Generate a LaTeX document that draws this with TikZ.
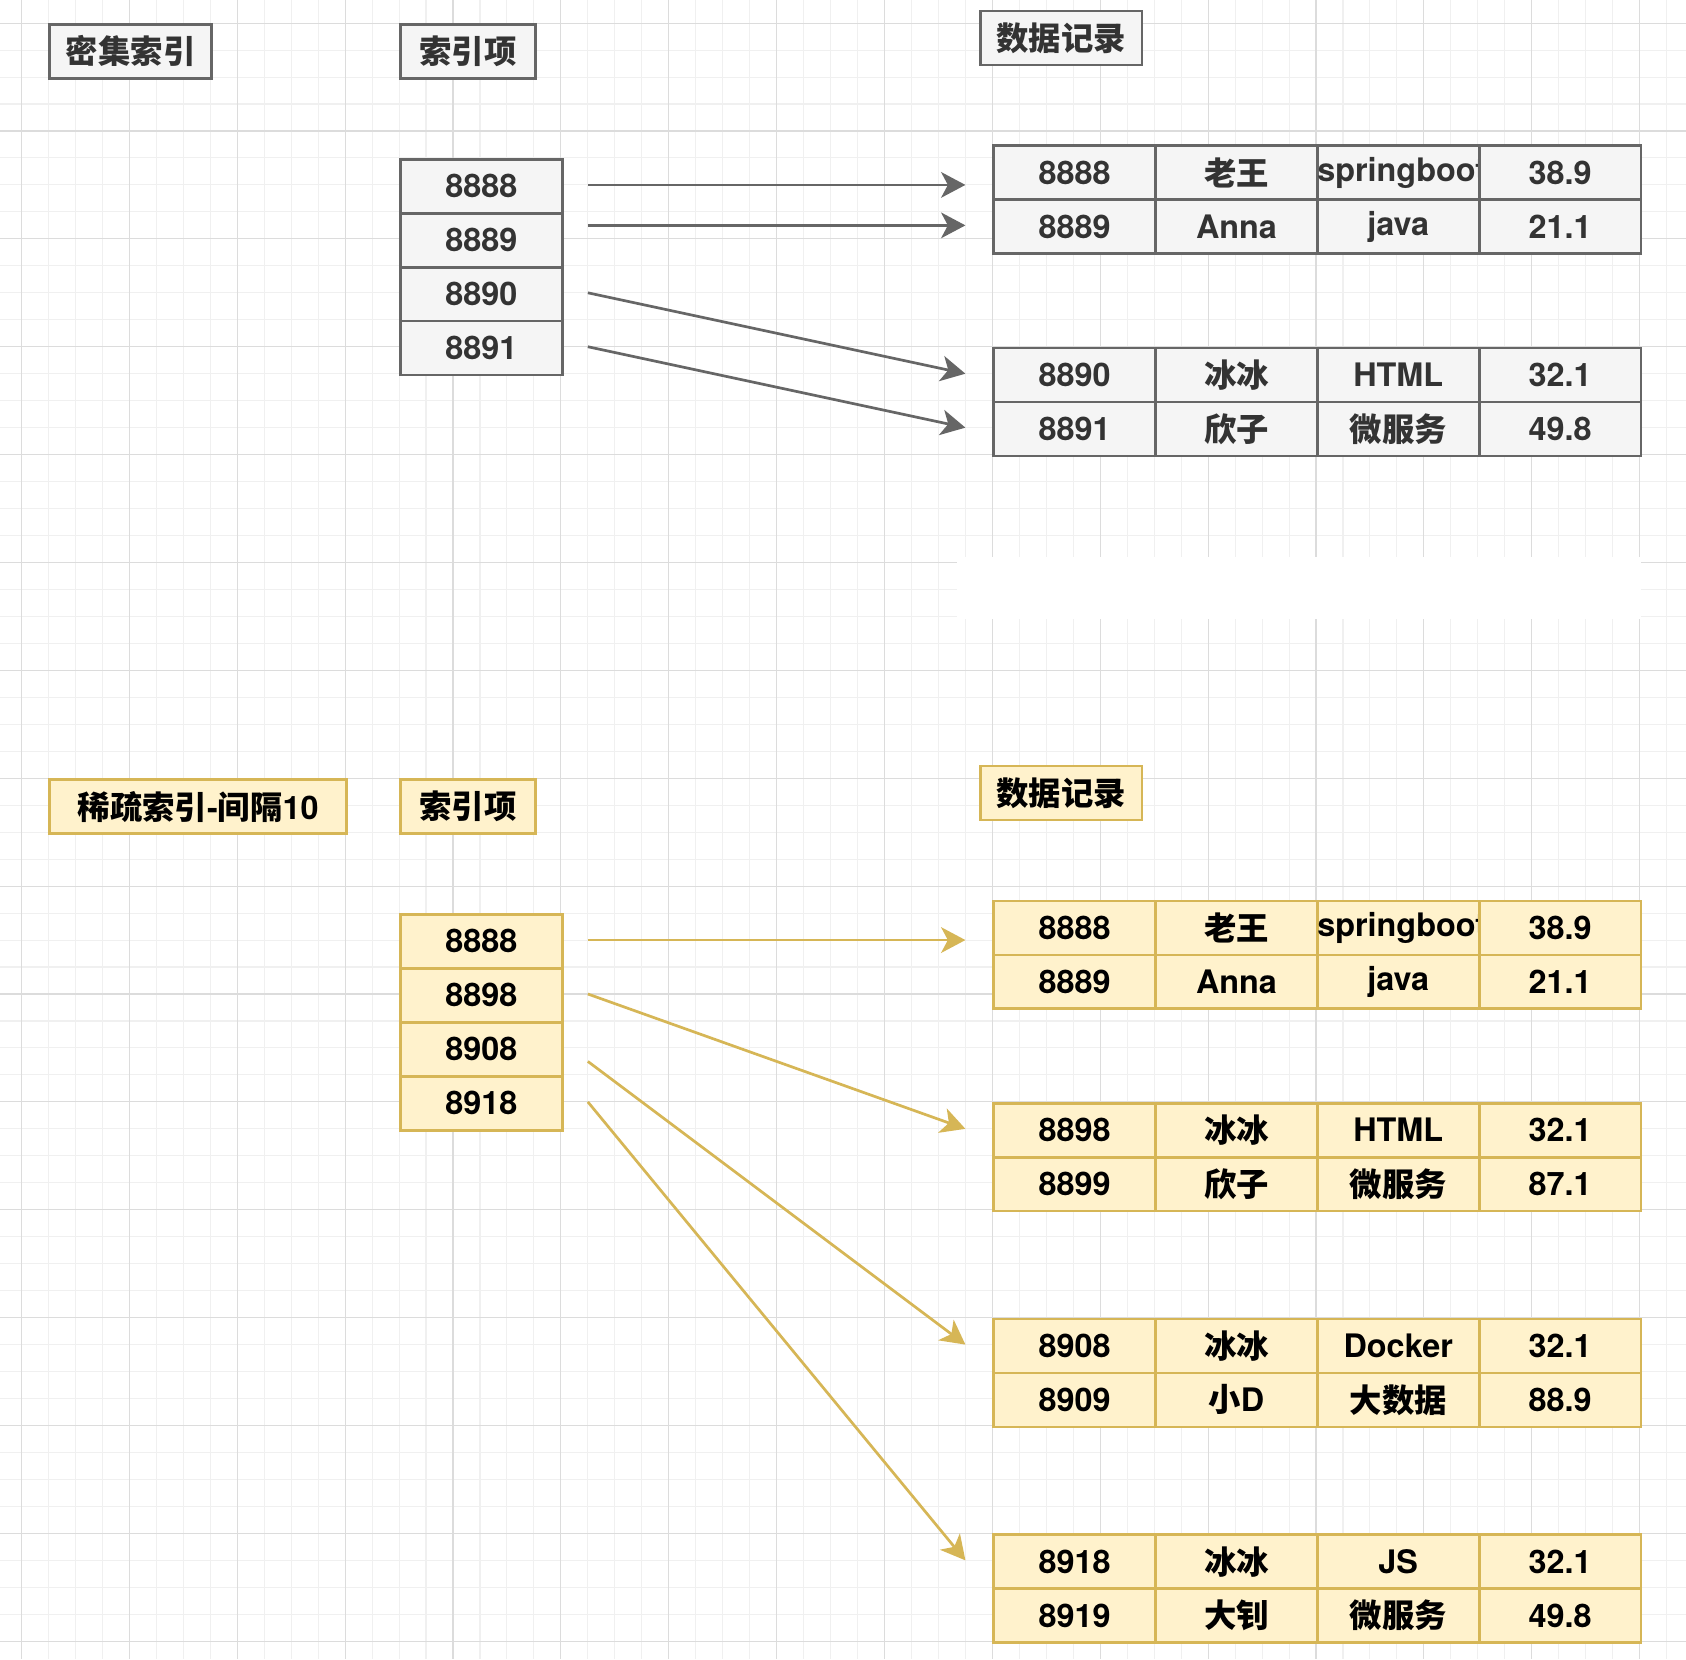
\documentclass[tikz,border=0pt]{standalone}
\usepackage{fontspec}
\setmainfont{TeX Gyre Heros}
\newfontfamily\cjk{Noto Sans CJK SC}
\usetikzlibrary{arrows.meta}
\definecolor{gstroke}{HTML}{666666}
\definecolor{gfill}{HTML}{F5F5F5}
\definecolor{gtext}{HTML}{333333}
\definecolor{ystroke}{HTML}{D6B656}
\definecolor{yfill}{HTML}{FFF2CC}
\definecolor{minorgrid}{HTML}{F0F0F0}
\definecolor{majorgrid}{HTML}{DCDCDC}
\tikzset{
  box/.style={line width=1pt, inner sep=0pt, font=\fontsize{12}{14}\selectfont\bfseries, anchor=north west},
  gray box/.style={box, draw=gstroke, fill=gfill, text=gtext},
  gold box/.style={box, draw=ystroke, fill=yfill, text=black},
  cellbox/.style={minimum width=60pt, minimum height=20pt},
  garrow/.style={draw=gstroke, line width=1pt, -{Stealth[length=9pt,width=9.5pt,inset=2.5pt]}},
  yarrow/.style={draw=ystroke, line width=1pt, -{Stealth[length=9pt,width=9.5pt,inset=2.5pt]}},
}
% one table row: name, style, y, four cell texts
\newcommand\trow[7]{%
  \node[#2,cellbox] (#1a) at (360,#3) {#4};
  \node[#2,cellbox] (#1b) at (420,#3) {#5};
  \node[#2,cellbox] (#1c) at (480,#3) {#6};
  \node[#2,cellbox] (#1d) at (540,#3) {#7};
}
\begin{document}
\begin{tikzpicture}[x=1pt,y=-1pt]
\useasboundingbox (-7.97,-8.57) rectangle (617.2,606.6);
\fill[white] (-7.97,-8.57) rectangle (617.2,606.6);
% grid
\foreach \x in {0,10,...,610} \draw[minorgrid, line width=0.4pt] (\x,-8.57) -- (\x,606.6);
\foreach \y in {0,10,...,600} \draw[minorgrid, line width=0.4pt] (-7.97,\y) -- (617.2,\y);
\foreach \x in {0,40,...,600} \draw[majorgrid, line width=0.4pt] (\x,-8.57) -- (\x,606.6);
\foreach \y in {0,40,...,600} \draw[majorgrid, line width=0.4pt] (-7.97,\y) -- (617.2,\y);
% white strip
\fill[white] (347,198) rectangle (600.5,221);

% ===== top: dense index =====
\node[gray box, minimum width=60pt, minimum height=20pt] (dlabel) at (10,0) {{\cjk 密集索引}};
\node[gray box, minimum width=50pt, minimum height=20pt] (dhead) at (140,0) {{\cjk 索引项}};
\node[gray box, minimum width=60pt, minimum height=20pt] (drec) at (355,-5) {{\cjk 数据记录}};

\node[gray box, cellbox] (d1) at (140,50) {8888};
\node[gray box, cellbox] (d2) at (140,70) {8889};
\node[gray box, cellbox] (d3) at (140,90) {8890};
\node[gray box, cellbox] (d4) at (140,110) {8891};

\trow{ta}{gray box}{45}{8888}{{\cjk 老王}}{springboot}{38.9}
\trow{tb}{gray box}{65}{8889}{Anna}{java}{21.1}
\trow{tc}{gray box}{120}{8890}{{\cjk 冰冰}}{HTML}{32.1}
\trow{td}{gray box}{140}{8891}{{\cjk 欣子}}{{\cjk 微服务}}{49.8}

\coordinate (ds1) at (210,60);  \coordinate (de1) at (350,60);
\coordinate (ds2) at (210,75);  \coordinate (de2) at (350,75);
\coordinate (ds3) at (210,100); \coordinate (de3) at (350,130);
\coordinate (ds4) at (210,120); \coordinate (de4) at (350,150);
\draw[garrow] (ds1) -- (de1);
\draw[garrow] (ds2) -- (de2);
\draw[garrow] (ds3) -- (de3);
\draw[garrow] (ds4) -- (de4);

% ===== bottom: sparse index =====
\node[gold box, minimum width=110pt, minimum height=20pt] (slabel) at (10,280) {{\cjk 稀疏索引}-{\cjk 间隔}10};
\node[gold box, minimum width=50pt, minimum height=20pt] (shead) at (140,280) {{\cjk 索引项}};
\node[gold box, minimum width=60pt, minimum height=20pt] (srec) at (355,275) {{\cjk 数据记录}};

\node[gold box, cellbox] (s1) at (140,330) {8888};
\node[gold box, cellbox] (s2) at (140,350) {8898};
\node[gold box, cellbox] (s3) at (140,370) {8908};
\node[gold box, cellbox] (s4) at (140,390) {8918};

\trow{ba}{gold box}{325}{8888}{{\cjk 老王}}{springboot}{38.9}
\trow{bb}{gold box}{345}{8889}{Anna}{java}{21.1}
\trow{bc}{gold box}{400}{8898}{{\cjk 冰冰}}{HTML}{32.1}
\trow{bd}{gold box}{420}{8899}{{\cjk 欣子}}{{\cjk 微服务}}{87.1}
\trow{be}{gold box}{480}{8908}{{\cjk 冰冰}}{Docker}{32.1}
\trow{bf}{gold box}{500}{8909}{{\cjk 小}D}{{\cjk 大数据}}{88.9}
\trow{bg}{gold box}{560}{8918}{{\cjk 冰冰}}{JS}{32.1}
\trow{bh}{gold box}{580}{8919}{{\cjk 大钊}}{{\cjk 微服务}}{49.8}

\coordinate (ss1) at (210,340); \coordinate (se1) at (350,340);
\coordinate (ss2) at (210,360); \coordinate (se2) at (350,410);
\coordinate (ss3) at (210,385); \coordinate (se3) at (350,490);
\coordinate (ss4) at (210,400); \coordinate (se4) at (350,570);
\draw[yarrow] (ss1) -- (se1);
\draw[yarrow] (ss2) -- (se2);
\draw[yarrow] (ss3) -- (se3);
\draw[yarrow] (ss4) -- (se4);
\end{tikzpicture}
\end{document}
